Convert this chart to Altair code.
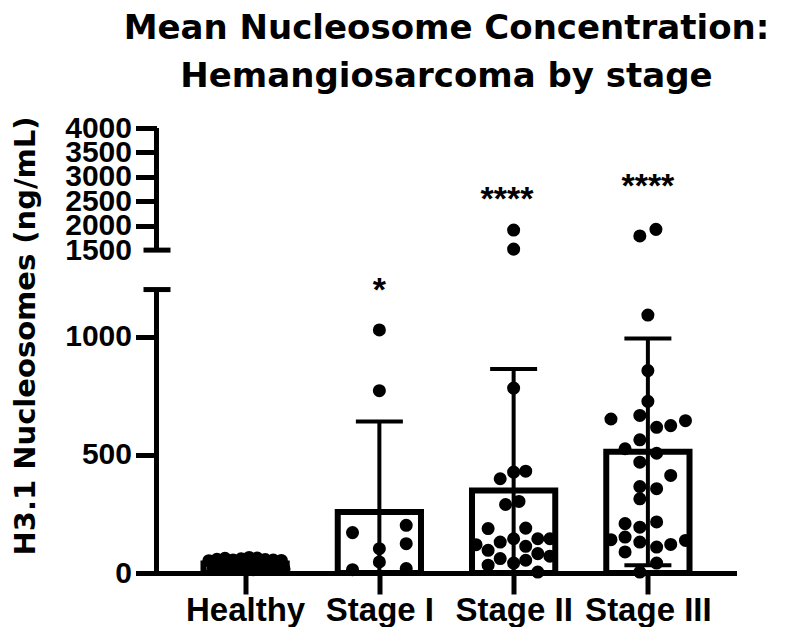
import json
import altair as alt
import pandas as pd

# ---------------- data ----------------
categories = ["Healthy", "Stage I", "Stage II", "Stage III"]
bar_means = [40, 258, 349, 513]
bar_sds = [15, 383, 515, 480]

healthy_values = [52, 58, 62, 55, 60, 66, 63, 57, 55, 53,
                  18, 22, 15, 25, 20, 14, 24, 19, 22, 17]
healthy_offsets = [-0.27, -0.21, -0.15, -0.09, -0.03, 0.03, 0.09, 0.15, 0.21, 0.27,
                   -0.24, -0.18, -0.12, -0.06, 0.0, 0.06, 0.12, 0.18, 0.24, 0.29]

stage1_values = [1029, 772, 202, 171, 124, 103, 47, 19, 14]
stage1_offsets = [0, 0, 0.2, -0.2, 0.2, 0, 0, 0.2, -0.2]

stage2_values = [1910, 1520, 783, 431, 427, 399, 303, 290, 190, 188, 145, 145,
                 145, 131, 120, 113, 96, 82, 71, 61, 54, 42, 33, 4]
stage2_offsets = [0, 0, 0, 0.09, 0, -0.10, 0.04, -0.06, 0.09, -0.19, 0, 0.18,
                  0.27, -0.10, -0.28, 0.09, -0.19, 0.18, 0.27, -0.10, 0.09, 0, -0.19, 0.18]

stage3_values = [1925, 1790, 1092, 857, 727, 667, 652, 645, 624, 617,
                 564, 526, 507, 469, 413, 366, 357, 314, 216, 209,
                 194, 152, 141, 138, 131, 121, 110, 89, 42, 4]
stage3_offsets = [0.06, -0.06, 0, 0, 0, -0.06, -0.275, 0.28, 0.17, 0.065,
                  -0.06, -0.17, 0.065, -0.06, 0.17, -0.06, 0.065, -0.06, 0.065, -0.17,
                  -0.06, -0.17, -0.275, 0.28, -0.06, 0.17, 0.065, -0.17, 0.065, -0.06]

sig_categories = ["Stage I", "Stage II", "Stage III"]
sig_labels = ["*", "****", "****"]
sig_levels = [1153, 2330, 2596]
sig_offsets = [0, -0.05, 0]

y_title = "H3.1 Nucleosomes (ng/mL)"
chart_title = ["Mean Nucleosome Concentration:", "Hemangiosarcoma by stage"]

lower_ticks = [0, 500, 1000]
upper_ticks = [1500, 2000, 2500, 3000, 3500, 4000]

# ---------------- broken-axis mapping ----------------
LOW_TOP = 1200
HIGH_BOTTOM = 1500
HIGH_TOP = 4000
HIGH_START = 1367
HIGH_SCALE = 0.2068


def to_display(v):
    return v if v <= LOW_TOP else HIGH_START + (v - HIGH_BOTTOM) * HIGH_SCALE


BAR_HALF = 0.31
CAP_HALF = 0.175

cat_index = {c: i for i, c in enumerate(categories)}

bars = pd.DataFrame({"cat": categories, "mean": bar_means, "sd": bar_sds})
bars["idx"] = bars["cat"].map(cat_index)
bars["lo"] = bars["idx"] - BAR_HALF
bars["hi"] = bars["idx"] + BAR_HALF
bars["zero"] = 0
bars["err_lo"] = (bars["mean"] - bars["sd"]).clip(lower=0)
bars["err_hi"] = bars["mean"] + bars["sd"]
bars["cap_l"] = bars["idx"] - CAP_HALF
bars["cap_r"] = bars["idx"] + CAP_HALF
low_caps = bars[bars["mean"] - bars["sd"] > 0].copy()

rows = []
for cat, vals, offs in [("Healthy", healthy_values, healthy_offsets),
                        ("Stage I", stage1_values, stage1_offsets),
                        ("Stage II", stage2_values, stage2_offsets),
                        ("Stage III", stage3_values, stage3_offsets)]:
    for v, o in zip(vals, offs):
        rows.append({"cat": cat, "value": v, "xpos": cat_index[cat] + o,
                     "ydisp": to_display(v)})
points = pd.DataFrame(rows)

sig = pd.DataFrame({"cat": sig_categories, "label": sig_labels,
                    "level": sig_levels, "off": sig_offsets})
sig["xpos"] = sig["cat"].map(cat_index) + sig["off"]
sig["ydisp"] = sig["level"].map(to_display)

axis_segments = pd.DataFrame({"y0": [0, to_display(HIGH_BOTTOM)],
                              "y1": [LOW_TOP, to_display(HIGH_TOP)]})
axis_caps = pd.DataFrame({"y": [LOW_TOP, to_display(HIGH_BOTTOM)]})

# ---------------- scales / axes ----------------
x_scale = alt.Scale(domain=[-0.66, 3.66], nice=False, zero=False)
y_scale = alt.Scale(domain=[0, to_display(HIGH_TOP)], nice=False, zero=False)

x_axis = alt.Axis(
    values=list(range(len(categories))),
    labelExpr=f"{json.dumps(categories)}[datum.value]",
    title=None, grid=False,
    domain=True, domainColor="black", domainWidth=5,
    ticks=True, tickColor="black", tickWidth=5, tickSize=21,
    labelFont="Liberation Sans", labelFontSize=33, labelFontWeight="bold",
    labelColor="black", labelPadding=26, labelBaseline="alphabetic",
    labelFlush=False, labelOverlap=False,
)

y_values = [to_display(v) for v in lower_ticks + upper_ticks]
y_axis = alt.Axis(
    values=y_values,
    labelExpr=(f"datum.value <= {LOW_TOP} ? format(datum.value, 'd') : "
               f"format(round({HIGH_BOTTOM} + (datum.value - {HIGH_START}) / {HIGH_SCALE}), 'd')"),
    grid=False, domain=False,
    ticks=True, tickColor="black", tickWidth=5, tickSize=21,
    tickOpacity={"condition": {"test": f"datum.value > {LOW_TOP} && datum.value < {HIGH_START + 10}",
                               "value": 0}, "value": 1},
    labelFont="Liberation Sans", labelFontSize=30, labelFontWeight="bold",
    labelColor="black", labelPadding=4, labelOverlap=False, labelFlush=False,
    labelBound=False,
    title=y_title, titleFont="DejaVu Sans", titleFontSize=29, titleFontWeight="bold",
    titleColor="black", titleAngle=270, titleAlign="center", titleBaseline="alphabetic",
    titleX=-122.5, titleY=207.5,
)


def X(field):
    return alt.X(field, scale=x_scale, axis=x_axis)


def Y(field):
    return alt.Y(field, scale=y_scale, axis=y_axis)


# ---------------- layers ----------------
bar_layer = alt.Chart(bars).mark_rect(fill="white", stroke="black", strokeWidth=6).encode(
    x=X("lo:Q"), x2="hi:Q", y=Y("mean:Q"), y2="zero:Q",
)

err_layer = alt.Chart(bars).mark_rule(color="black", strokeWidth=4).encode(
    x=X("idx:Q"), y=Y("err_lo:Q"), y2="err_hi:Q",
)

cap_layer = alt.Chart(bars).mark_rule(color="black", strokeWidth=4).encode(
    x=X("cap_l:Q"), x2="cap_r:Q", y=Y("err_hi:Q"),
)

low_cap_layer = alt.Chart(low_caps).mark_rule(color="black", strokeWidth=4).encode(
    x=X("cap_l:Q"), x2="cap_r:Q", y=Y("err_lo:Q"),
)

point_layer = alt.Chart(points).mark_circle(size=170, color="black", opacity=1).encode(
    x=X("xpos:Q"), y=Y("ydisp:Q"),
)

sig_layer = alt.Chart(sig).mark_text(
    font="Liberation Sans", fontSize=34, fontWeight="bold", color="black",
    align="center", baseline="alphabetic",
).encode(
    x=X("xpos:Q"), y=Y("ydisp:Q"), text="label:N",
)

axis_line_layer = alt.Chart(axis_segments).mark_rule(color="black", strokeWidth=5).encode(
    x=alt.value(0), y=Y("y0:Q"), y2="y1:Q",
)

axis_cap_layer = alt.Chart(axis_caps).mark_rule(color="black", strokeWidth=5).encode(
    x=alt.value(-13), x2=alt.value(14), y=Y("y:Q"),
)

chart = alt.layer(
    bar_layer, err_layer, cap_layer, low_cap_layer, point_layer, sig_layer,
    axis_line_layer, axis_cap_layer,
).properties(
    width=580,
    height=445,
    title=alt.TitleParams(
        text=chart_title, font="DejaVu Sans", fontSize=34, fontWeight="bold",
        color="black", anchor="middle", frame="group", dx=0, offset=29, dy=37,
        baseline="alphabetic", lineHeight=48,
    ),
    autosize=alt.AutoSizeParams(type="none"),
    padding={"left": 148.5, "top": 120, "right": 42, "bottom": 54},
).configure(background="white").configure_view(stroke=None)

chart.save("out.html", embed_options={"renderer": "svg", "actions": False})
